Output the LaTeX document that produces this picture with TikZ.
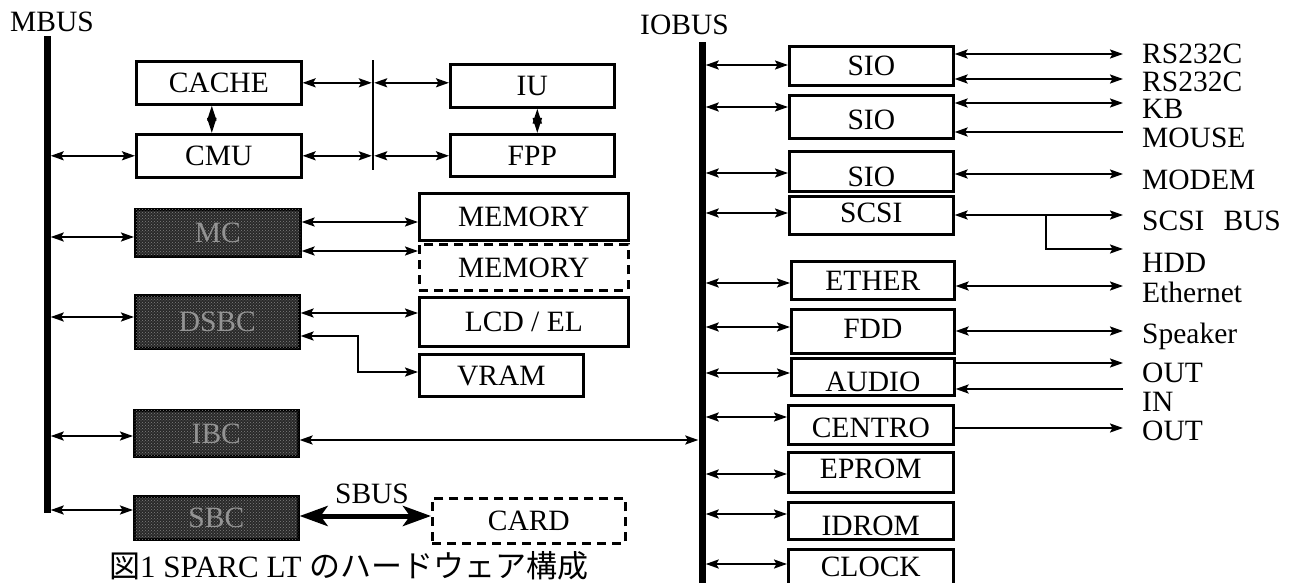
\documentclass[tikz,border=0pt]{standalone}
\usepackage{fontspec}
\setmainfont{Liberation Serif}
\newfontfamily\cjk{Noto Sans CJK JP}
\usetikzlibrary{arrows.meta,patterns}
\newcommand\lab{\fontsize{29.5}{31}\selectfont}
\newcommand\capfont{\fontsize{31}{33}\selectfont}
\begin{document}
\begin{tikzpicture}[x=1pt,y=-1pt,
  >={Stealth[length=13pt,width=9pt,inset=2.5pt]},
  box/.style={draw, line width=2.6pt, inner sep=0pt, anchor=north west, text height=20pt, text depth=0pt, font=\lab},
  dbox/.style={box, fill=black!84, text=black!42, postaction={pattern=crosshatch dots, pattern color=black!50}},
  dashbox/.style={box, dash pattern=on 9pt off 6pt},
  conn/.style={line width=2.1pt},
  dia/.style={line width=2pt, {Triangle[length=15pt,width=9pt]}-{Triangle[length=15pt,width=9pt]}},
  sbusarrow/.style={line width=5pt, {Stealth[length=28pt,width=20pt,inset=7pt]}-{Stealth[length=28pt,width=20pt,inset=7pt]}},
  bus/.style={fill=black, inner sep=0pt, minimum width=7pt, anchor=north},
  lbl/.style={font=\lab, inner sep=0pt, anchor=base west}]

\fill[white] (0,0) rectangle (1298,583);
\useasboundingbox (0,0) rectangle (1298,583);

% buses
\node[bus, minimum height=477pt] (mbus) at (47,36) {};
\node[lbl] (mbuslbl) at (10,32) {MBUS};
\node[bus, minimum height=545pt] (iobus) at (702,42) {};
\node[lbl] (iobuslbl) at (640,35) {IOBUS};

% left side
\node[box, minimum width=165pt, minimum height=43pt] (cache) at (135,60) {CACHE};
\node[box, minimum width=165pt, minimum height=43pt] (cmu) at (135,133) {CMU};
\node[fill, inner sep=0pt, minimum width=2pt, minimum height=110pt, anchor=north] (div) at (373,60) {};
\node[box, minimum width=164pt, minimum height=43pt] (iu) at (449,63) {IU};
\node[box, minimum width=164pt, minimum height=42pt] (fpp) at (449,133) {FPP};
\node[box, minimum width=209pt, minimum height=47pt] (mem1) at (418,192) {MEMORY};
\node[dashbox, minimum width=209pt, minimum height=46pt] (mem2) at (418,243) {MEMORY};
\node[box, minimum width=209pt, minimum height=49pt] (lcd) at (418,296) {LCD / EL};
\node[box, minimum width=164pt, minimum height=42pt] (vram) at (418,353) {VRAM};
\node[dbox, minimum width=165pt, minimum height=47pt] (mc) at (134,208) {MC};
\node[dbox, minimum width=164pt, minimum height=53pt] (dsbc) at (134,294) {DSBC};
\node[dbox, minimum width=164pt, minimum height=46pt] (ibc) at (133,409) {IBC};
\node[dbox, minimum width=164pt, minimum height=43pt] (sbc) at (133,495) {SBC};
\node[dashbox, minimum width=193pt, minimum height=45pt] (card) at (431,497) {CARD};
\node[lbl, anchor=base] (sbuslbl) at (372,503) {SBUS};

% right side boxes
\node[box, minimum width=164pt, minimum height=39pt] (sio1) at (788,45) {SIO};
\node[box, minimum width=164pt, minimum height=43pt, text height=25pt] (sio2) at (788,94) {SIO};
\node[box, minimum width=164pt, minimum height=40pt, text height=30pt] (sio3) at (788,150) {SIO};
\node[box, minimum width=164pt, minimum height=38pt, text depth=5pt] (scsi) at (788,195) {SCSI};
\node[box, minimum width=163pt, minimum height=38pt] (ether) at (790,260) {ETHER};
\node[box, minimum width=163pt, minimum height=44pt, text depth=6pt] (fdd) at (790,308) {FDD};
\node[box, minimum width=163pt, minimum height=37pt, text height=29pt] (audio) at (790,357) {AUDIO};
\node[box, minimum width=165pt, minimum height=39pt, text height=25pt] (centro) at (787,404) {CENTRO};
\node[box, minimum width=165pt, minimum height=40pt, text depth=7pt] (eprom) at (787,451) {EPROM};
\node[box, minimum width=165pt, minimum height=37pt, text height=29pt] (idrom) at (787,501) {IDROM};
\node[box, minimum width=165pt, minimum height=45pt, text depth=10pt] (clock) at (787,548) {CLOCK};

% right labels
\node[lbl] (rs1) at (1142,64) {RS232C};
\node[lbl] (rs2) at (1142,92) {RS232C};
\node[lbl] (kb) at (1142,119) {KB};
\node[lbl] (mouse) at (1142,147) {MOUSE};
\node[lbl] (modem) at (1142,189) {MODEM};
\node[lbl] (scsibus) at (1142,230) {SCSI\hspace{19pt}BUS};
\node[lbl] (hdd) at (1142,272) {HDD};
\node[lbl] (ethernet) at (1142,302) {Ethernet};
\node[lbl] (speaker) at (1142,343) {Speaker};
\node[lbl] (out1) at (1142,382) {OUT};
\node[lbl] (in) at (1142,411) {IN};
\node[lbl] (out2) at (1142,440) {OUT};

% free ends
\coordinate (e1) at (1123,54);
\coordinate (e2) at (1123,79);
\coordinate (e3) at (1123,103);
\coordinate (e4) at (1123,132);
\coordinate (e5) at (1123,174);
\coordinate (e6) at (1123,215);
\coordinate (e7) at (1123,249);
\coordinate (e8) at (1123,286);
\coordinate (e9) at (1123,331);
\coordinate (e10) at (1123,363);
\coordinate (e11) at (1123,389);
\coordinate (e12) at (1123,428);
\coordinate (br) at (1046,215);

% caption
\node[lbl, font=\capfont] (cap) at (109,577) {{\cjk 図}1 SPARC LT {\cjk のハードウェア構成}};

% left connectors
\draw[conn,<->] (mbus.east |- cmu.west) -- (cmu.west);
\draw[conn,<->] (cache.east) -- (div.west |- cache.east);
\draw[conn,<->] (div.east |- cache.east) -- (iu.west |- cache.east);
\draw[conn,<->] (cmu.east) -- (div.west |- cmu.east);
\draw[conn,<->] (div.east |- cmu.east) -- (fpp.west |- cmu.east);
\draw[dia] ([xshift=-7pt]cache.south) -- ([xshift=-7pt]cmu.north);
\draw[dia] ([xshift=5pt]iu.south) -- ([xshift=5pt]fpp.north);
\draw[conn,<->] (mbus.east |- 0,237) -- (mc.west |- 0,237);
\draw[conn,<->] (mc.east |- 0,222) -- (mem1.west |- 0,222);
\draw[conn,<->] (mc.east |- 0,251) -- (mem2.west |- 0,251);
\draw[conn,<->] (mbus.east |- 0,317) -- (dsbc.west |- 0,317);
\draw[conn,<->] (dsbc.east |- 0,313) -- (lcd.west |- 0,313);
\draw[conn,<->] (dsbc.east |- 0,336) -- (358,336) -- (358,372) -- (vram.west |- 0,372);
\draw[conn,<->] (mbus.east |- 0,436) -- (ibc.west |- 0,436);
\draw[conn,<->] (ibc.east |- 0,440) -- (iobus.west |- 0,440);
\draw[conn,<->] (mbus.east |- 0,510) -- (sbc.west |- 0,510);
\draw[sbusarrow] (sbc.east |- 0,516) -- (card.west |- 0,516);

% right connectors: bus side
\draw[conn,<->] (iobus.east |- 0,65) -- (sio1.west |- 0,65);
\draw[conn,<->] (iobus.east |- 0,107) -- (sio2.west |- 0,107);
\draw[conn,<->] (iobus.east |- 0,173) -- (sio3.west |- 0,173);
\draw[conn,<->] (iobus.east |- 0,213) -- (scsi.west |- 0,213);
\draw[conn,<->] (iobus.east |- 0,283) -- (ether.west |- 0,283);
\draw[conn,<->] (iobus.east |- 0,327) -- (fdd.west |- 0,327);
\draw[conn,<->] (iobus.east |- 0,373) -- (audio.west |- 0,373);
\draw[conn,<->] (iobus.east |- 0,417) -- (centro.west |- 0,417);
\draw[conn,<->] (iobus.east |- 0,474) -- (eprom.west |- 0,474);
\draw[conn,<->] (iobus.east |- 0,514) -- (idrom.west |- 0,514);
\draw[conn,<->] (iobus.east |- 0,564) -- (clock.west |- 0,564);

% right connectors: outside
\draw[conn,<->] (sio1.east |- e1) -- (e1);
\draw[conn,<->] (sio1.east |- e2) -- (e2);
\draw[conn,<->] (sio2.east |- e3) -- (e3);
\draw[conn,<-] (sio2.east |- e4) -- (e4);
\draw[conn,<->] (sio3.east |- e5) -- (e5);
\draw[conn,<->] (scsi.east |- e6) -- (e6);
\draw[conn,->] (br) -- (br |- e7) -- (e7);
\draw[conn,<->] (ether.east |- e8) -- (e8);
\draw[conn,<->] (fdd.east |- e9) -- (e9);
\draw[conn,->] (audio.east |- e10) -- (e10);
\draw[conn,<-] (audio.east |- e11) -- (e11);
\draw[conn,->] (centro.east |- e12) -- (e12);
\end{tikzpicture}
\end{document}
